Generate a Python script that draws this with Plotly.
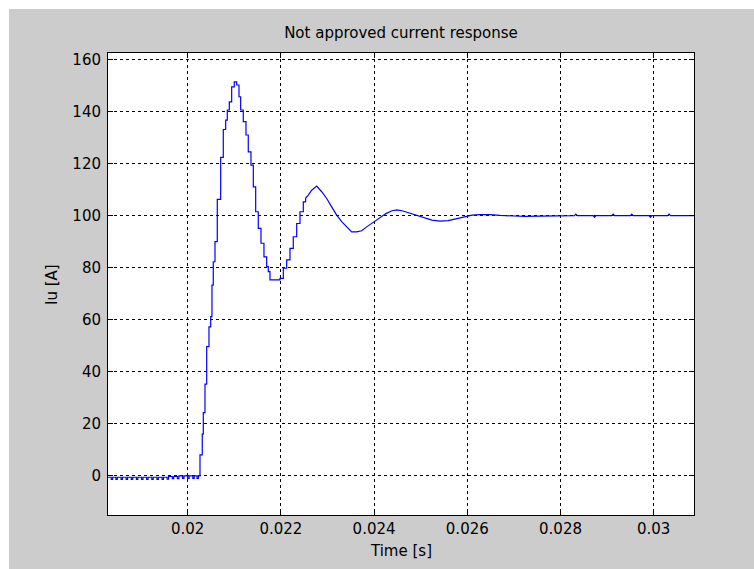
import plotly.graph_objects as go

# Phase current samples (time in seconds, current in amperes)
baseline_t = [0.01829, 0.01836, 0.01839, 0.01846, 0.01849, 0.01857, 0.01860, 0.01868, 0.01871,
              0.01879, 0.01882, 0.01890, 0.01893, 0.01901, 0.01904, 0.01912, 0.01915, 0.01923,
              0.01926, 0.01934, 0.01937, 0.01945, 0.01948, 0.01956, 0.01959, 0.01967, 0.01970,
              0.01978, 0.01981, 0.01989, 0.01992, 0.02000, 0.02003, 0.02011, 0.02014, 0.02020,
              0.02023]
baseline_i = [-0.5, -1.3, -0.5, -1.3, -0.5, -1.3, -0.5, -1.3, -0.5,
              -1.3, -0.5, -1.3, -0.5, -1.3, -0.5, -1.3, -0.5, -1.3,
              -0.5, -1.3, -0.5, -1.3, -0.5, -1.2, -0.2, -1.0, -0.2,
              -1.0, 0.0, -0.9, 0.0, -0.9, 0.0, -0.9, 0.0, -0.9,
              0.0]

# fast part of the response, drawn as held samples
step_t = [0.020264, 0.020313, 0.020335, 0.020371, 0.020408, 0.020457, 0.020494, 0.020521,
          0.020549, 0.020586, 0.020635, 0.020708, 0.020764, 0.020815, 0.020850, 0.020893,
          0.020944, 0.021000, 0.021052, 0.021101, 0.021137, 0.021193, 0.021251, 0.021300,
          0.021358, 0.021408, 0.021459, 0.021515, 0.021573, 0.021637, 0.021695, 0.021730,
          0.021766, 0.021873, 0.021981, 0.022052, 0.022124, 0.022195, 0.022266, 0.022339,
          0.022410, 0.022481, 0.022530]
step_i = [8.1, 16.1, 24.3, 35.3, 49.7, 57.3, 61.2, 73.3,
          82.3, 90.0, 106.3, 122.4, 133.1, 136.7, 140.6, 143.7,
          149.5, 151.4, 150.2, 145.7, 140.6, 136.1, 131.0, 124.5,
          119.4, 111.1, 101.5, 95.1, 89.4, 84.2, 80.4, 78.5,
          75.3, 75.3, 75.9, 79.8, 83.0, 87.4, 91.9, 97.0,
          101.5, 105.3, 106.8]

# slow settling part
settle_t = [0.022530, 0.022588, 0.022661, 0.022768, 0.022876, 0.022983, 0.023090,
            0.023197, 0.023305, 0.023412, 0.023519, 0.023627, 0.023734, 0.023841, 0.023948,
            0.024090, 0.024255, 0.024384, 0.024491, 0.024620, 0.024770, 0.024942, 0.025092,
            0.025242, 0.025414, 0.025586, 0.025757, 0.025929, 0.026101, 0.026273, 0.026487,
            0.026702, 0.026959, 0.027238, 0.027560, 0.02800, 0.02830, 0.02833, 0.02836,
            0.02870, 0.02873, 0.02876, 0.02910, 0.02913, 0.02916, 0.02950, 0.02953, 0.02956,
            0.02990, 0.02993, 0.02996, 0.03030, 0.03033, 0.03036, 0.03088]
settle_i = [106.8, 107.9, 109.8, 111.4, 109.2, 106.6, 103.4,
            100.2, 97.7, 95.7, 93.8, 93.8, 94.2, 95.7, 97.0,
            99.0, 100.8, 101.9, 102.2, 101.8, 100.9, 99.8, 98.9,
            98.3, 97.9, 98.1, 98.8, 99.6, 100.2, 100.4, 100.4,
            100.1, 99.8, 99.7, 99.8, 100.0, 100.0, 100.6, 100.0,
            100.0, 99.4, 100.0, 100.0, 100.6, 100.0, 100.0, 100.6, 100.0,
            100.0, 99.4, 100.0, 100.0, 100.6, 100.0, 100.0]

x_tick_vals = [0.020, 0.022, 0.024, 0.026, 0.028, 0.030]
x_tick_text = ["0.02", "0.022", "0.024", "0.026", "0.028", "0.03"]
y_tick_vals = [0, 20, 40, 60, 80, 100, 120, 140, 160]

FONT = "DejaVu Sans, Verdana, sans-serif"
LINE = dict(color="#0000ff", width=1.2)

fig = go.Figure()
fig.add_trace(go.Scatter(x=baseline_t + step_t, y=baseline_i + step_i, mode="lines",
                         line=dict(**LINE, shape="hv"), showlegend=False))
fig.add_trace(go.Scatter(x=settle_t, y=settle_i, mode="lines",
                         line=dict(**LINE, shape="linear"), showlegend=False))

axis_style = dict(
    showline=True,
    linecolor="black",
    linewidth=1,
    mirror="ticks",
    ticks="inside",
    ticklen=5,
    tickwidth=1,
    tickcolor="black",
    showgrid=True,
    gridcolor="black",
    gridwidth=1,
    griddash="3px,3px",
    zeroline=False,
    tickfont=dict(family=FONT, size=15, color="black"),
)

fig.update_xaxes(range=[0.01829, 0.030865], tickvals=x_tick_vals, ticktext=x_tick_text, **axis_style)
fig.update_yaxes(range=[-15, 162.5], tickvals=y_tick_vals, ticklabelstandoff=3, **axis_style)

fig.update_layout(
    width=754,
    height=569,
    margin=dict(l=108, r=60, t=53, b=54),
    paper_bgcolor="#cccccc",
    plot_bgcolor="white",
    font=dict(family=FONT, size=15, color="black"),
    title=dict(
        text="Not approved current response",
        x=0.5,
        xref="paper",
        y=1 - 33 / 569,
        yref="container",
        yanchor="middle",
        font=dict(family=FONT, size=15, color="black"),
    ),
    annotations=[
        dict(text="Time [s]", xref="paper", yref="paper", x=0.5, y=(515 - 551) / 462,
             xanchor="center", yanchor="middle", showarrow=False,
             font=dict(family=FONT, size=15, color="black")),
        dict(text="Iu [A]", xref="paper", yref="paper", x=(52 - 108) / 586, y=0.5,
             xanchor="center", yanchor="middle", textangle=-90, showarrow=False,
             font=dict(family=FONT, size=15, color="black")),
    ],
    shapes=[
        # thin white margin along the top and left of the figure
        dict(type="rect", xref="paper", yref="paper", x0=-0.3, x1=1.3,
             y0=1 + (53 - 9) / 462, y1=1.3, fillcolor="white", line=dict(width=0), layer="above"),
        dict(type="rect", xref="paper", yref="paper", x0=-0.3, x1=(9 - 108) / 586,
             y0=-0.3, y1=1.3, fillcolor="white", line=dict(width=0), layer="above"),
    ],
)

fig.write_html("out.html")
